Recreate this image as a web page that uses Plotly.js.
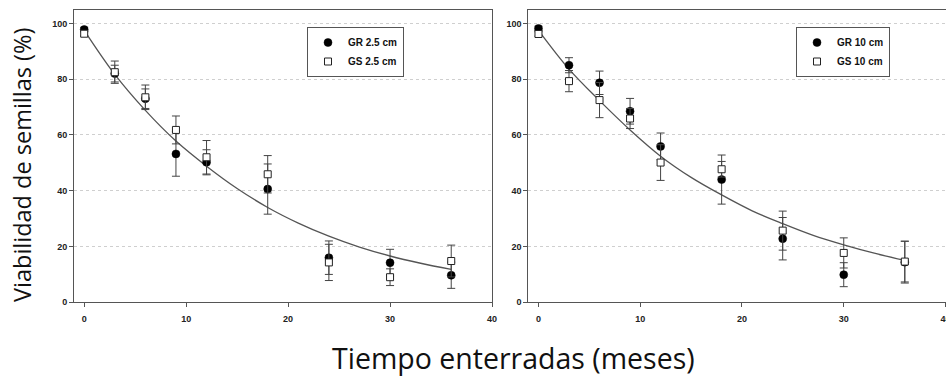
<!DOCTYPE html>
<html>
<head>
<meta charset="utf-8">
<script src="https://cdn.plot.ly/plotly-3.0.1.min.js"></script>
<style>html,body{margin:0;padding:0;background:#fff;}#chart{width:946px;height:380px;}</style>
</head>
<body>
<div id="chart"></div>
<script>
// Months after burial
var months = [0, 3, 6, 9, 12, 18, 24, 30, 36];

// Left panel: 2.5 cm depth
var gr25 = [97.8, 82, 73, 53.2, 50.2, 40.6, 16.0, 14.2, 9.7];
var gr25Err = [0.8, 3, 3.5, 8, 4.5, 9, 6, 4.8, 4.7];
var gs25 = [96.3, 82.5, 73.5, 61.8, 52, 45.9, 14.3, 9.0, 14.8];
var gs25Err = [0.8, 4, 4.4, 5, 6, 6.7, 6.5, 3, 5.7];

// Right panel: 10 cm depth
var gr10 = [98.2, 85, 78.7, 68.5, 55.9, 44, 22.8, 9.9, 14.4];
var gr10Err = [0.8, 2.7, 4.2, 4.6, 4.8, 8.8, 7.6, 4.3, 7.5];
var gs10 = [96.2, 79.3, 72.5, 65.9, 50.1, 47.7, 25.7, 17.7, 14.6];
var gs10Err = [0.8, 3.8, 6.3, 3.6, 6.4, 2.8, 7, 5.4, 7.3];

// Fitted curves
var curveX = [0, 3, 6, 9, 12, 15, 18, 21, 24, 27, 30, 33, 36];
var curve25 = [97.5, 81.7, 68.8, 57.8, 48.8, 40.8, 34, 28.4, 23.7, 19.8, 16.6, 14, 11.8];
var curve10 = [97.5, 83.6, 72.3, 61.8, 52.4, 44.8, 38.5, 32.8, 28.2, 24, 20.6, 17.6, 15];

// Labels
var labelsLeft = ['GR 2.5 cm', 'GS 2.5 cm'];
var labelsRight = ['GR 10 cm', 'GS 10 cm'];
var xTicks = [0, 10, 20, 30, 40];
var yTicks = [0, 20, 40, 60, 80, 100];
var yTitle = 'Viabilidad de semillas (%)';
var xTitle = 'Tiempo enterradas (meses)';

var W = 946, H = 380;
var lineCol = '#555555';
var errStyle = function (arr) {
  return {type: 'data', array: arr, visible: true, color: '#444', thickness: 1, width: 4};
};
function curveTrace(y, xa, ya) {
  return {x: curveX, y: y, xaxis: xa, yaxis: ya, mode: 'lines', line: {color: '#555', width: 1.3, shape: 'spline'}, showlegend: false, hoverinfo: 'skip'};
}
function grTrace(y, e, name, xa, ya, lg) {
  return {x: months, y: y, error_y: errStyle(e), xaxis: xa, yaxis: ya, mode: 'markers', name: name, legend: lg,
    marker: {symbol: 'circle', size: 8, color: '#000', line: {color: '#000', width: 0.5}}};
}
function gsTrace(y, e, name, xa, ya, lg) {
  return {x: months, y: y, error_y: errStyle(e), xaxis: xa, yaxis: ya, mode: 'markers', name: name, legend: lg,
    marker: {symbol: 'square', size: 7, color: '#fff', line: {color: '#222', width: 1}}};
}

var data = [
  curveTrace(curve25, 'x', 'y'),
  grTrace(gr25, gr25Err, labelsLeft[0], 'x', 'y', 'legend'),
  gsTrace(gs25, gs25Err, labelsLeft[1], 'x', 'y', 'legend'),
  curveTrace(curve10, 'x2', 'y2'),
  grTrace(gr10, gr10Err, labelsRight[0], 'x2', 'y2', 'legend2'),
  gsTrace(gs10, gs10Err, labelsRight[1], 'x2', 'y2', 'legend2')
];

var tickFont = {family: 'Liberation Sans, Arial, sans-serif', size: 9, color: '#222', weight: 'bold'};
function xax(dom, anchor) {
  return {domain: dom, anchor: anchor, range: [-1, 40], tickvals: xTicks, ticks: 'outside', ticklen: 4,
    tickcolor: lineCol, showline: true, linecolor: lineCol, linewidth: 1, mirror: true, showgrid: false, zeroline: false,
    tickfont: tickFont, ticklabelstandoff: 4, ticklabeloverflow: 'allow', fixedrange: true};
}
function yax(anchor) {
  return {domain: [1 - 302.3 / H, 1 - 10 / H], anchor: anchor, range: [0, 104.8], tickvals: yTicks,
    ticks: 'outside', ticklen: 4, tickcolor: lineCol, showline: true, linecolor: lineCol, linewidth: 1, mirror: true,
    showgrid: true, gridcolor: '#cfcfcf', griddash: 'dot', gridwidth: 1, zeroline: false, tickfont: tickFont, fixedrange: true};
}
var legFont = {family: 'Liberation Sans, Arial, sans-serif', size: 10, color: '#111', weight: 'bold'};
var layout = {
  width: W, height: H,
  margin: {l: 0, r: 0, t: 0, b: 0},
  paper_bgcolor: '#fff', plot_bgcolor: '#fff',
  xaxis: xax([74 / W, 492 / W], 'y'),
  yaxis: yax('x'),
  xaxis2: xax([528.3 / W, 945.5 / W], 'y2'),
  yaxis2: yax('x2'),
  legend: {x: 307 / W, y: 1 - 27 / H, xanchor: 'left', yanchor: 'top', bordercolor: '#555', borderwidth: 1,
    bgcolor: '#fff', font: legFont, tracegroupgap: 0, itemwidth: 30},
  legend2: {x: 796 / W, y: 1 - 27 / H, xanchor: 'left', yanchor: 'top', bordercolor: '#555', borderwidth: 1,
    bgcolor: '#fff', font: legFont, tracegroupgap: 0, itemwidth: 30},
  annotations: [
    {text: yTitle, xref: 'paper', yref: 'paper', x: 22 / W, y: 1 - 165 / H, xanchor: 'center', yanchor: 'middle',
      textangle: -90, showarrow: false, font: {family: 'Open Sans, sans-serif', size: 23.5, color: '#111'}},
    {text: xTitle, xref: 'paper', yref: 'paper', x: 513 / W, y: 1 - 358 / H, xanchor: 'center', yanchor: 'middle',
      showarrow: false, font: {family: 'Open Sans, sans-serif', size: 28.5, color: '#111'}}
  ],
  showlegend: true
};
Plotly.newPlot('chart', data, layout, {displayModeBar: false, staticPlot: true});
</script>
</body>
</html>
